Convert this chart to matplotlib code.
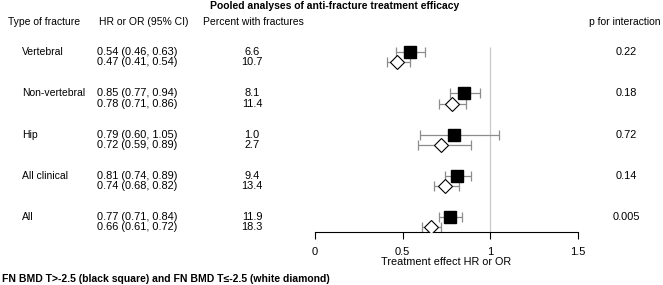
import matplotlib
matplotlib.use("Agg")
import matplotlib.pyplot as plt
from matplotlib.transforms import blended_transform_factory

plt.rcParams['font.family'] = ['Liberation Sans', 'DejaVu Sans']

# Data
fractures = ["Vertebral", "Non-vertebral", "Hip", "All clinical", "All"]
hr_high = [0.54, 0.85, 0.79, 0.81, 0.77]   # FN BMD T>-2.5 (black square)
lo_high = [0.46, 0.77, 0.60, 0.74, 0.71]
hi_high = [0.63, 0.94, 1.05, 0.89, 0.84]
hr_low = [0.47, 0.78, 0.72, 0.74, 0.66]    # FN BMD T<=-2.5 (white diamond)
lo_low = [0.41, 0.71, 0.59, 0.68, 0.61]
hi_low = [0.54, 0.86, 0.89, 0.82, 0.72]
pct_high = [6.6, 8.1, 1.0, 9.4, 11.9]
pct_low = [10.7, 11.4, 2.7, 13.4, 18.3]
p_values = ["0.22", "0.18", "0.72", "0.14", "0.005"]

W, H = 663, 285
fig = plt.figure(figsize=(W / 100, H / 100), dpi=100)
ax = fig.add_axes([315 / W, 1 - 232 / H, (578 - 315) / W, (232 - 40) / H])

step = 0.25  # offset of the second row inside a group
ys_high = list(range(len(fractures)))
ys_low = [y + step for y in ys_high]

ax.set_xlim(0, 1.5)
ax.set_ylim(4.36, -0.29)

ax.vlines(1, -0.12, 4.36, color="#c8c8c8", lw=0.9, zorder=1)

err_kw = dict(fmt="none", ecolor="#8c8c8c", elinewidth=0.9, capsize=3.5, capthick=0.9, zorder=2)
ax.errorbar(hr_high, ys_high,
            xerr=[[h - l for h, l in zip(hr_high, lo_high)], [u - h for h, u in zip(hr_high, hi_high)]],
            **err_kw)
ax.errorbar(hr_low, ys_low,
            xerr=[[h - l for h, l in zip(hr_low, lo_low)], [u - h for h, u in zip(hr_low, hi_low)]],
            **err_kw)
ax.plot(hr_high, ys_high, "s", ms=8.5, color="black", ls="none", zorder=3)
ax.plot(hr_low, ys_low, "D", ms=7, mfc="white", mec="black", mew=0.8, ls="none", zorder=3)

for s in ["top", "right", "left"]:
    ax.spines[s].set_visible(False)
ax.spines["bottom"].set_linewidth(0.8)
ax.set_yticks([])
ax.set_xticks([0, 0.5, 1, 1.5])
ax.set_xticklabels(["0", "0.5", "1", "1.5"], fontsize=8)
ax.tick_params(axis="x", length=5, width=0.8, pad=6)
ax.set_xlabel("Treatment effect HR or OR", fontsize=7.8, labelpad=0)
ax.patch.set_alpha(0)

fs = 7.5
fnum = 7.9
tr = blended_transform_factory(fig.transFigure, ax.transData)
for i, name in enumerate(fractures):
    ax.text(22 / W, ys_high[i], name, transform=tr, fontsize=fs, va="center", ha="left", clip_on=False)
    ax.text(97 / W, ys_high[i], f"{hr_high[i]:.2f} ({lo_high[i]:.2f}, {hi_high[i]:.2f})",
            transform=tr, fontsize=fnum, va="center", ha="left", clip_on=False)
    ax.text(97 / W, ys_low[i], f"{hr_low[i]:.2f} ({lo_low[i]:.2f}, {hi_low[i]:.2f})",
            transform=tr, fontsize=fnum, va="center", ha="left", clip_on=False)
    ax.text(252 / W, ys_high[i], f"{pct_high[i]:.1f}", transform=tr, fontsize=fnum,
            va="center", ha="center", clip_on=False)
    ax.text(252 / W, ys_low[i], f"{pct_low[i]:.1f}", transform=tr, fontsize=fnum,
            va="center", ha="center", clip_on=False)
    ax.text(626 / W, ys_high[i], p_values[i], transform=tr, fontsize=fnum,
            va="center", ha="center", clip_on=False)

# headers
hy = 1 - 22 / H
fig.text(8 / W, hy, "Type of fracture", fontsize=fs, va="center", ha="left")
fig.text(99 / W, hy, "HR or OR (95% CI)", fontsize=fs, va="center", ha="left")
fig.text(253 / W, hy, "Percent with fractures", fontsize=fs, va="center", ha="center")
fig.text(625 / W, hy, "p for interaction", fontsize=fs, va="center", ha="center")
fig.text(335 / W, 1 - 6 / H, "Pooled analyses of anti-fracture treatment efficacy",
         fontsize=fs, fontweight="bold", va="center", ha="center")
fig.text(2 / W, 1 - 279 / H, "FN BMD T>-2.5 (black square) and FN BMD T≤-2.5 (white diamond)",
         fontsize=fs, fontweight="bold", va="center", ha="left")

fig.savefig("out.png", dpi=100, facecolor="white")
